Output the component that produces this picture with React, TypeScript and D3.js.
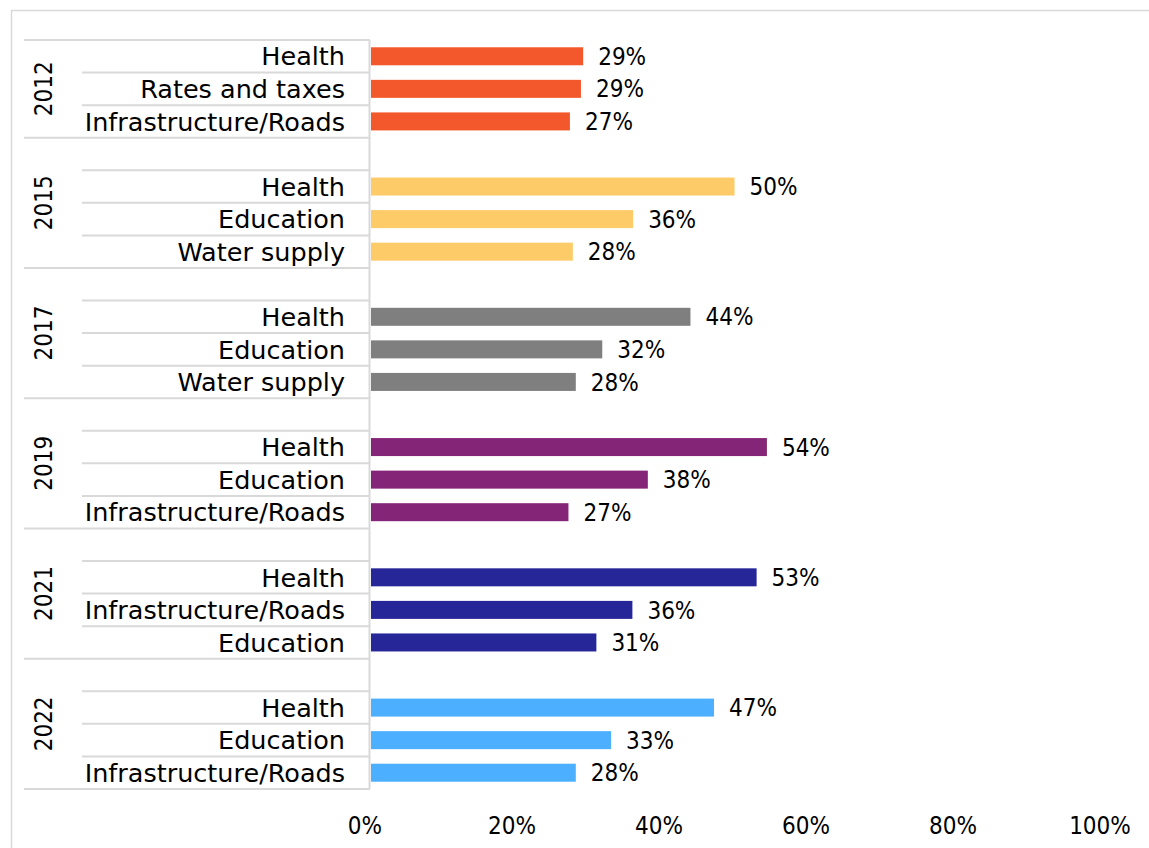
import React from "react";
import * as d3 from "d3";

const groupYears = ["2012", "2015", "2017", "2019", "2021", "2022"];
const groupCategories = [
  ["Health", "Rates and taxes", "Infrastructure/Roads"],
  ["Health", "Education", "Water supply"],
  ["Health", "Education", "Water supply"],
  ["Health", "Education", "Infrastructure/Roads"],
  ["Health", "Infrastructure/Roads", "Education"],
  ["Health", "Education", "Infrastructure/Roads"],
];
const groupValues = [
  [0.29, 0.287, 0.272],
  [0.496, 0.358, 0.276],
  [0.436, 0.316, 0.28],
  [0.54, 0.378, 0.27],
  [0.526, 0.357, 0.308],
  [0.468, 0.328, 0.28],
];
const groupColors = ["#F3582C", "#FECB69", "#7F7F7F", "#852577", "#262699", "#4DAFFF"];
const xTicks = [0, 0.2, 0.4, 0.6, 0.8, 1.0];

const W = 1149;
const H = 848;
const FONT = "'DejaVu Sans', sans-serif";
const NUMFONT = "'DejaVu Sans Condensed', 'DejaVu Sans', sans-serif";
const GRID = "#d9d9d9";

type Row = { key: string; g: number; i: number; blank: boolean };

export default function App() {
  const rows: Row[] = [];
  groupYears.forEach((yr, g) => {
    if (g > 0) rows.push({ key: `${yr}-blank`, g, i: -1, blank: true });
    groupCategories[g].forEach((c, i) => rows.push({ key: `${yr}-${i}`, g, i, blank: false }));
  });

  const y = d3.scaleBand<string>().domain(rows.map((r) => r.key)).range([40, 789]).padding(0);
  const x = d3.scaleLinear().domain([0, 1]).range([370, 1105]);
  const bh = 18;
  const step = y.bandwidth();

  const groupTop = (g: number) => y(rows.find((r) => r.g === g)!.key)!;
  const groupBottom = (g: number) => {
    const last = rows.filter((r) => r.g === g).slice(-1)[0];
    return y(last.key)! + step;
  };

  const fmt = d3.format(".0%");

  return (
    <div style={{ position: "absolute", left: 0, top: 0 }}>
      <svg width={W} height={H} style={{ display: "block", background: "#fff" }} fontFamily={FONT}>
        {/* chart border */}
        <line x1={11.5} x2={11.5} y1={10} y2={H + 5} stroke={GRID} strokeWidth={1.5} />
        <line x1={11} x2={W + 5} y1={10.5} y2={10.5} stroke={GRID} strokeWidth={1.5} />

        {/* group separator long lines */}
        {groupYears.map((yr, g) => (
          <line key={`lt-${yr}`} x1={24} x2={370} y1={groupTop(g)} y2={groupTop(g)} stroke={GRID} strokeWidth={2} />
        ))}
        <line x1={24} x2={370} y1={groupBottom(groupYears.length - 1)} y2={groupBottom(groupYears.length - 1)} stroke={GRID} strokeWidth={2} />

        {/* short category lines */}
        {rows
          .filter((r) => !r.blank && !(r.g === 0 && r.i === 0))
          .map((r) => (
            <line key={`ls-${r.key}`} x1={82} x2={370} y1={y(r.key)!} y2={y(r.key)!} stroke={GRID} strokeWidth={2} />
          ))}

        {/* axis line */}
        <line x1={369.5} x2={369.5} y1={40} y2={789} stroke={GRID} strokeWidth={2} />

        {/* year labels */}
        {groupYears.map((yr, g) => {
          const cy = (groupTop(g) + groupBottom(g)) / 2;
          return (
            <text key={`yr-${yr}`} transform={`translate(43,${cy}) rotate(-90)`} textAnchor="middle" dy="0.36em" fontSize={24} fontFamily={NUMFONT} fill="#000">
              {yr}
            </text>
          );
        })}

        {/* category labels, bars, value labels */}
        {rows
          .filter((r) => !r.blank)
          .map((r) => {
            const cy = y(r.key)! + step / 2;
            const v = groupValues[r.g][r.i];
            return (
              <g key={`b-${r.key}`}>
                <text x={345} y={cy} dy="0.36em" textAnchor="end" fontSize={25.5} fill="#000">
                  {groupCategories[r.g][r.i]}
                </text>
                <rect x={x(0) + 1} y={cy - bh / 2} width={x(v) - x(0) - 1} height={bh} fill={groupColors[r.g]} />
                <text x={x(v) + 15} y={cy} dy="0.36em" fontSize={24} fontFamily={NUMFONT} fill="#000">
                  {fmt(Math.round(v * 100) / 100)}
                </text>
              </g>
            );
          })}

        {/* x tick labels */}
        {xTicks.map((t) => (
          <text key={`t-${t}`} x={x(t) - 5} y={825} dy="0.36em" textAnchor="middle" fontSize={24} fontFamily={NUMFONT} fill="#000">
            {fmt(t)}
          </text>
        ))}
      </svg>
    </div>
  );
}
